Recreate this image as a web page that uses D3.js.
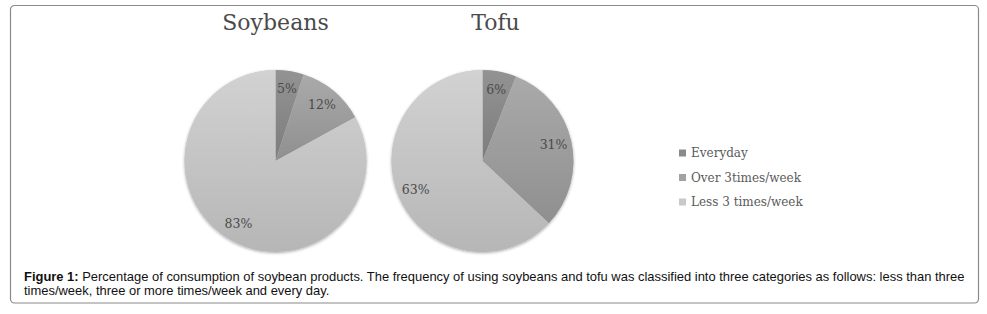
<!DOCTYPE html>
<meta charset="utf-8">
<script src="https://d3js.org/d3.v7.min.js"></script>
<style>
body { margin: 0; background: #fff; }
.title { font-family: "DejaVu Serif", serif; font-size: 22px; fill: #4a4a4a; }
.lbl { font-family: "DejaVu Serif", serif; font-size: 12.5px; fill: #4a4a4a; }
.legend text { font-family: "DejaVu Serif", serif; font-size: 12px; fill: #5a5a5a; }
.caption { font-family: "Liberation Sans", Arial, sans-serif; font-size: 12px; fill: #111; }
</style>
<body>
<div id="chart"></div>
<script>

// categorias (legenda)
var categories = ["Everyday", "Over 3times/week", "Less 3 times/week"];
// percentuais de cada grafico
var soybeans = [5, 12, 83];
var tofu = [6, 31, 63];
var charts = ["Soybeans", "Tofu"];

var caption1 = "Percentage of consumption of soybean products. The frequency of using soybeans and tofu was classified into three categories as follows: less than three";
var caption2 = "times/week, three or more times/week and every day.";

var width = 987, height = 314;
var radius = 91;

var svg = d3.select("#chart").append("svg")
	.attr("width", width)
	.attr("height", height);

// cores: topo claro -> base escura (efeito de gradiente)
var colors = [
	["#939393", "#7d7d7d"],
	["#aaaaaa", "#8f8f8f"],
	["#d2d2d2", "#b6b6b6"]
];
var legendColors = ["#8a8a8a", "#a2a2a2", "#c8c8c8"];

var defs = svg.append("defs");
colors.forEach(function(c, i) {
	var gr = defs.append("linearGradient")
		.attr("id", "grad" + i)
		.attr("x1", 0).attr("y1", 0).attr("x2", 0).attr("y2", 1);
	gr.append("stop").attr("offset", "0%").attr("stop-color", c[0]);
	gr.append("stop").attr("offset", "100%").attr("stop-color", c[1]);
});

var shadow = defs.append("filter").attr("id", "shadow")
	.attr("x", "-10%").attr("y", "-10%").attr("width", "120%").attr("height", "120%");
shadow.append("feDropShadow")
	.attr("dx", 0).attr("dy", 1).attr("stdDeviation", 1.6)
	.attr("flood-color", "#000").attr("flood-opacity", 0.35);

// moldura
svg.append("rect")
	.attr("x", 10.5).attr("y", 5.5)
	.attr("width", 968).attr("height", 297.5)
	.attr("rx", 4)
	.style("fill", "none")
	.style("stroke", "#8a8a8a")
	.style("stroke-width", 1.2);

var x = d3.scalePoint()
	.domain(charts)
	.range([275.5, 482.5]);
// titulo do Tofu fica um pouco deslocado a direita
var titleShift = { "Soybeans": 0, "Tofu": 13 };

var pie = d3.pie().sort(null);
var arc = d3.arc().innerRadius(0).outerRadius(radius);
var labelArc = d3.arc().innerRadius(radius * 0.8).outerRadius(radius * 0.8);

var values = { "Soybeans": soybeans, "Tofu": tofu };

charts.forEach(function(name) {
	var g = svg.append("g")
		.attr("transform", "translate(" + x(name) + ",161)");

	svg.append("text")
		.attr("class", "title")
		.attr("x", x(name) + titleShift[name])
		.attr("y", 30)
		.attr("text-anchor", "middle")
		.text(name);

	var slices = pie(values[name]);

	g.append("circle")
		.attr("r", radius)
		.style("fill", "#ccc")
		.attr("filter", "url(#shadow)");

	g.selectAll("path.slice")
		.data(slices)
		.enter().append("path")
		.attr("class", "slice")
		.attr("d", arc)
		.style("fill", function(d, i) { return "url(#grad" + i + ")"; });

	g.selectAll("text.lbl")
		.data(slices)
		.enter().append("text")
		.attr("class", "lbl")
		.attr("transform", function(d) { return "translate(" + labelArc.centroid(d) + ")"; })
		.attr("text-anchor", "middle")
		.attr("dy", "0.35em")
		.text(function(d) { return d.data + "%"; });
});

// legenda
var ly = d3.scalePoint()
	.domain(categories)
	.range([153, 202]);

var legend = svg.append("g").attr("class", "legend");
categories.forEach(function(c, i) {
	legend.append("rect")
		.attr("x", 679).attr("y", ly(c) - 3.5)
		.attr("width", 7).attr("height", 7)
		.style("fill", legendColors[i]);
	legend.append("text")
		.attr("x", 691).attr("y", ly(c))
		.attr("dy", "0.35em")
		.text(c);
});

// legenda da figura
var cap = svg.append("g").attr("class", "caption");
var t1 = cap.append("text").attr("x", 24).attr("y", 281);
t1.append("tspan").style("font-weight", "bold").text("Figure 1: ");
t1.append("tspan").text(caption1);
var t2 = cap.append("text").attr("x", 24).attr("y", 295).text(caption2);

// comprime o texto para caber na largura da figura
var k = 942 / t1.node().getComputedTextLength();
t1.attr("transform", "translate(24,0) scale(" + k + ",1) translate(-24,0)");
t2.attr("transform", "translate(24,0) scale(" + k + ",1) translate(-24,0)");
</script>
</body>
